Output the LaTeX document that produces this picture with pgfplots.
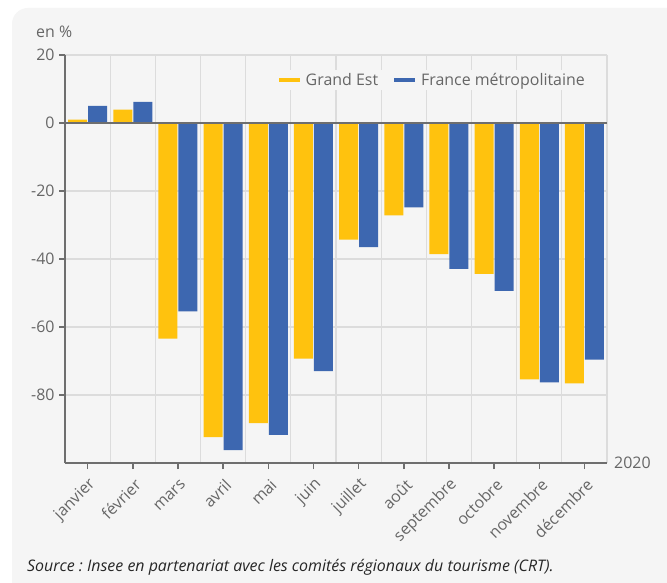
\documentclass[border=0pt]{standalone}
\usepackage{fontspec}
\setmainfont{Open Sans}
\usepackage{pgfplots}
\pgfplotsset{compat=1.18}
\frenchspacing
\definecolor{panelgray}{HTML}{F5F5F5}
\definecolor{gridgray}{HTML}{DCDCDC}
\definecolor{axisgray}{HTML}{6E6E6E}
\definecolor{labelgray}{HTML}{666666}
\definecolor{geyellow}{HTML}{FFC20E}
\definecolor{frblue}{HTML}{3D67B0}
\begin{document}
\begin{tikzpicture}
\useasboundingbox (0,0) rectangle (667bp,583bp);
\fill[white] (0,0) rectangle (667bp,583bp);
\fill[panelgray, rounded corners=16bp] (12bp,-20bp) rectangle (690bp,575bp);
\begin{axis}[
  at={(65bp,120bp)}, anchor=south west,
  scale only axis, width=542bp, height=408bp,
  xmin=-0.5, xmax=11.5, ymin=-100, ymax=20,
  ybar=1bp, bar width=19bp,
  axis x line*=bottom, axis y line*=left,
  axis line style={draw=axisgray, line width=1.5bp, -},
  xtick={0,...,11},
  xticklabels={janvier,février,mars,avril,mai,juin,juillet,août,septembre,octobre,novembre,décembre},
  minor xtick={-0.5,0.5,...,11.5},
  xminorgrids=true, xmajorgrids=false, ymajorgrids=true,
  minor grid style={draw=gridgray, line width=1.3bp},
  major grid style={draw=gridgray, line width=1.3bp},
  ytick={-80,-60,-40,-20,0,20},
  yticklabels={-80,-60,-40,-20,0,20},
  tick align=outside,
  major tick length=6bp, minor tick length=0pt,
  tick style={draw=axisgray, line width=1.5bp},
  tick label style={font=\fontsize{16}{19}\selectfont, text=labelgray},
  xticklabel style={rotate=45, anchor=east, xshift=-2bp, yshift=-13bp},
  yticklabel style={xshift=-1bp},
  legend style={at={(rel axis cs:0.965,0.939)}, anchor=east, fill=panelgray, draw=none,
    font=\fontsize{16}{19}\selectfont, text=labelgray, inner sep=1bp,
    /tikz/every odd column/.append style={column sep=4bp},
    /tikz/every even column/.append style={column sep=14bp}},
  legend columns=2,
  legend cell align=left,
  legend image code/.code={\fill[#1] (0bp,-2.2bp) rectangle (21bp,2.2bp);},
  clip=false,
]
\addplot[fill=geyellow, draw=none] coordinates {
(0,1.0) (1,3.9) (2,-63.4) (3,-92.4) (4,-88.3) (5,-69.3) (6,-34.3) (7,-27.2) (8,-38.6) (9,-44.4) (10,-75.4) (11,-76.6)};
\addlegendentry{Grand Est}
\addplot[fill=frblue, draw=none] coordinates {
(0,5.0) (1,6.2) (2,-55.4) (3,-96.2) (4,-91.7) (5,-73.0) (6,-36.5) (7,-24.8) (8,-42.9) (9,-49.4) (10,-76.3) (11,-69.6)};
\addlegendentry{France métropolitaine}
\draw[axisgray, line width=1.5bp] (axis cs:-0.5,0) -- (axis cs:11.5,0);
\node[anchor=west, text=labelgray, font=\fontsize{16}{19}\selectfont, inner sep=0pt] at (rel axis cs:1,0) [xshift=7bp] {2020};
\end{axis}
\node[anchor=west, text=labelgray, font=\fontsize{16}{19}\selectfont, inner sep=0pt] at (36bp,551bp) {en \%};
\node[anchor=west, text=black!85, font=\fontsize{16}{19}\selectfont\itshape, inner sep=0pt] at (27bp,16bp) {Source : Insee en partenariat avec les comités régionaux du tourisme (CRT).};
\end{tikzpicture}
\end{document}
